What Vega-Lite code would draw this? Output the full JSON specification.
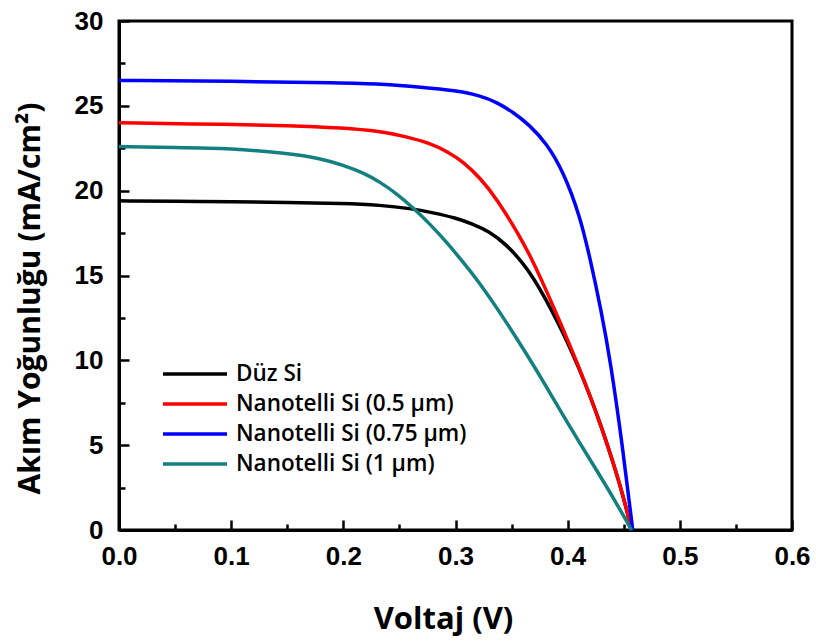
{
  "$schema": "https://vega.github.io/schema/vega-lite/v6.json",
  "width": 673,
  "height": 509,
  "autosize": "none",
  "padding": {"left": 119, "top": 21, "right": 24, "bottom": 113},
  "background": "white",
  "config": {
    "view": {"stroke": "black", "strokeWidth": 3},
    "axis": {"grid": false, "domainColor": "black", "domainWidth": 3, "tickColor": "black", "tickWidth": 2.5, "labelColor": "black", "titleColor": "black"}
  },
  "data": {"values": [
    {"v": 0, "j": 19.4, "s": "Düz Si"},
    {"v": 0.05, "j": 19.37, "s": "Düz Si"},
    {"v": 0.1, "j": 19.35, "s": "Düz Si"},
    {"v": 0.15, "j": 19.3, "s": "Düz Si"},
    {"v": 0.2, "j": 19.25, "s": "Düz Si"},
    {"v": 0.233, "j": 19.15, "s": "Düz Si"},
    {"v": 0.26, "j": 18.95, "s": "Düz Si"},
    {"v": 0.28, "j": 18.7, "s": "Düz Si"},
    {"v": 0.3, "j": 18.4, "s": "Düz Si"},
    {"v": 0.315, "j": 18.05, "s": "Düz Si"},
    {"v": 0.33, "j": 17.6, "s": "Düz Si"},
    {"v": 0.345, "j": 16.85, "s": "Düz Si"},
    {"v": 0.36, "j": 15.75, "s": "Düz Si"},
    {"v": 0.37, "j": 14.8, "s": "Düz Si"},
    {"v": 0.38, "j": 13.65, "s": "Düz Si"},
    {"v": 0.39, "j": 12.4, "s": "Düz Si"},
    {"v": 0.4, "j": 11.05, "s": "Düz Si"},
    {"v": 0.41, "j": 9.55, "s": "Düz Si"},
    {"v": 0.42, "j": 7.9, "s": "Düz Si"},
    {"v": 0.43, "j": 6.1, "s": "Düz Si"},
    {"v": 0.44, "j": 4.1, "s": "Düz Si"},
    {"v": 0.45, "j": 1.9, "s": "Düz Si"},
    {"v": 0.457, "j": 0, "s": "Düz Si"},
    {"v": 0, "j": 24.0, "s": "Nanotelli Si (0.5 µm)"},
    {"v": 0.1, "j": 23.9, "s": "Nanotelli Si (0.5 µm)"},
    {"v": 0.15, "j": 23.85, "s": "Nanotelli Si (0.5 µm)"},
    {"v": 0.2, "j": 23.7, "s": "Nanotelli Si (0.5 µm)"},
    {"v": 0.233, "j": 23.5, "s": "Nanotelli Si (0.5 µm)"},
    {"v": 0.255, "j": 23.2, "s": "Nanotelli Si (0.5 µm)"},
    {"v": 0.277, "j": 22.8, "s": "Nanotelli Si (0.5 µm)"},
    {"v": 0.293, "j": 22.3, "s": "Nanotelli Si (0.5 µm)"},
    {"v": 0.307, "j": 21.7, "s": "Nanotelli Si (0.5 µm)"},
    {"v": 0.322, "j": 20.75, "s": "Nanotelli Si (0.5 µm)"},
    {"v": 0.337, "j": 19.5, "s": "Nanotelli Si (0.5 µm)"},
    {"v": 0.357, "j": 17.35, "s": "Nanotelli Si (0.5 µm)"},
    {"v": 0.367, "j": 16.1, "s": "Nanotelli Si (0.5 µm)"},
    {"v": 0.377, "j": 14.7, "s": "Nanotelli Si (0.5 µm)"},
    {"v": 0.387, "j": 13.2, "s": "Nanotelli Si (0.5 µm)"},
    {"v": 0.4, "j": 11.2, "s": "Nanotelli Si (0.5 µm)"},
    {"v": 0.41, "j": 9.6, "s": "Nanotelli Si (0.5 µm)"},
    {"v": 0.42, "j": 7.9, "s": "Nanotelli Si (0.5 µm)"},
    {"v": 0.43, "j": 6.1, "s": "Nanotelli Si (0.5 µm)"},
    {"v": 0.44, "j": 4.1, "s": "Nanotelli Si (0.5 µm)"},
    {"v": 0.45, "j": 1.9, "s": "Nanotelli Si (0.5 µm)"},
    {"v": 0.457, "j": 0, "s": "Nanotelli Si (0.5 µm)"},
    {"v": 0, "j": 26.5, "s": "Nanotelli Si (0.75 µm)"},
    {"v": 0.1, "j": 26.45, "s": "Nanotelli Si (0.75 µm)"},
    {"v": 0.2, "j": 26.35, "s": "Nanotelli Si (0.75 µm)"},
    {"v": 0.233, "j": 26.29, "s": "Nanotelli Si (0.75 µm)"},
    {"v": 0.27, "j": 26.1, "s": "Nanotelli Si (0.75 µm)"},
    {"v": 0.3, "j": 25.9, "s": "Nanotelli Si (0.75 µm)"},
    {"v": 0.322, "j": 25.6, "s": "Nanotelli Si (0.75 µm)"},
    {"v": 0.337, "j": 25.2, "s": "Nanotelli Si (0.75 µm)"},
    {"v": 0.351, "j": 24.64, "s": "Nanotelli Si (0.75 µm)"},
    {"v": 0.366, "j": 23.87, "s": "Nanotelli Si (0.75 µm)"},
    {"v": 0.381, "j": 22.8, "s": "Nanotelli Si (0.75 µm)"},
    {"v": 0.396, "j": 21.15, "s": "Nanotelli Si (0.75 µm)"},
    {"v": 0.411, "j": 18.5, "s": "Nanotelli Si (0.75 µm)"},
    {"v": 0.42, "j": 16.0, "s": "Nanotelli Si (0.75 µm)"},
    {"v": 0.43, "j": 12.9, "s": "Nanotelli Si (0.75 µm)"},
    {"v": 0.438, "j": 10.0, "s": "Nanotelli Si (0.75 µm)"},
    {"v": 0.449, "j": 4.9, "s": "Nanotelli Si (0.75 µm)"},
    {"v": 0.458, "j": 0, "s": "Nanotelli Si (0.75 µm)"},
    {"v": 0, "j": 22.6, "s": "Nanotelli Si (1 µm)"},
    {"v": 0.05, "j": 22.55, "s": "Nanotelli Si (1 µm)"},
    {"v": 0.1, "j": 22.5, "s": "Nanotelli Si (1 µm)"},
    {"v": 0.15, "j": 22.2, "s": "Nanotelli Si (1 µm)"},
    {"v": 0.18, "j": 21.9, "s": "Nanotelli Si (1 µm)"},
    {"v": 0.2, "j": 21.5, "s": "Nanotelli Si (1 µm)"},
    {"v": 0.218, "j": 21.05, "s": "Nanotelli Si (1 µm)"},
    {"v": 0.233, "j": 20.5, "s": "Nanotelli Si (1 µm)"},
    {"v": 0.248, "j": 19.8, "s": "Nanotelli Si (1 µm)"},
    {"v": 0.262, "j": 19.0, "s": "Nanotelli Si (1 µm)"},
    {"v": 0.277, "j": 18.05, "s": "Nanotelli Si (1 µm)"},
    {"v": 0.292, "j": 16.97, "s": "Nanotelli Si (1 µm)"},
    {"v": 0.306, "j": 15.85, "s": "Nanotelli Si (1 µm)"},
    {"v": 0.32, "j": 14.7, "s": "Nanotelli Si (1 µm)"},
    {"v": 0.342, "j": 12.6, "s": "Nanotelli Si (1 µm)"},
    {"v": 0.366, "j": 10.1, "s": "Nanotelli Si (1 µm)"},
    {"v": 0.381, "j": 8.45, "s": "Nanotelli Si (1 µm)"},
    {"v": 0.396, "j": 6.75, "s": "Nanotelli Si (1 µm)"},
    {"v": 0.411, "j": 5.1, "s": "Nanotelli Si (1 µm)"},
    {"v": 0.426, "j": 3.5, "s": "Nanotelli Si (1 µm)"},
    {"v": 0.442, "j": 1.75, "s": "Nanotelli Si (1 µm)"},
    {"v": 0.457, "j": 0, "s": "Nanotelli Si (1 µm)"}
  ]},
  "mark": {"type": "line", "strokeWidth": 3.5, "interpolate": "basis"},
  "encoding": {
    "x": {"field": "v", "type": "quantitative", "scale": {"domain": [0, 0.6], "nice": false},
      "axis": {"orient": "bottom", "title": "Voltaj (V)",
        "values": [0, 0.05, 0.1, 0.15, 0.2, 0.25, 0.3, 0.35, 0.4, 0.45, 0.5, 0.55, 0.6],
        "labelExpr": "round(datum.value*20) % 2 === 1 ? '' : format(datum.value, '.1f')",
        "tickSize": {"condition": {"test": "round(datum.value*20) % 2 === 1", "value": -6}, "value": -10},
        "labelPadding": 23, "labelFont": "Liberation Sans", "labelFontWeight": "bold", "labelFontSize": 26,
        "titleFont": "Open Sans", "titleFontWeight": "bold", "titleFontSize": 31, "titlePadding": 35, "titleX": 324, "labelFlush": false}},
    "y": {"field": "j", "type": "quantitative", "scale": {"domain": [0, 30], "nice": false},
      "axis": {"orient": "left", "title": "Akım Yoğunluğu (mA/cm²)",
        "values": [0, 2.5, 5, 7.5, 10, 12.5, 15, 17.5, 20, 22.5, 25, 27.5, 30],
        "labelExpr": "round(datum.value*2) % 2 === 1 ? '' : format(datum.value, 'd')",
        "tickSize": {"condition": {"test": "round(datum.value*2) % 2 === 1", "value": -6}, "value": -10},
        "labelPadding": 26, "labelFont": "Liberation Sans", "labelFontWeight": "bold", "labelFontSize": 26,
        "titleFont": "Open Sans", "titleFontWeight": "bold", "titleFontSize": 30, "titlePadding": 29, "titleY": 277, "labelFlush": false}},
    "color": {"field": "s", "type": "nominal",
      "scale": {"domain": ["Düz Si", "Nanotelli Si (0.5 µm)", "Nanotelli Si (0.75 µm)", "Nanotelli Si (1 µm)"], "range": ["#000000", "#ff0000", "#0000ff", "#138080"]},
      "legend": {"orient": "none", "legendX": 58, "legendY": 335, "title": null, "symbolType": "M-2,0H2", "symbolSize": 1024, "symbolStrokeWidth": 3.5, "labelFont": "Open Sans", "labelFontWeight": 600, "labelFontSize": 22.5, "labelColor": "black", "labelOffset": 23, "labelLimit": 400, "rowPadding": -2}}
  }
}
